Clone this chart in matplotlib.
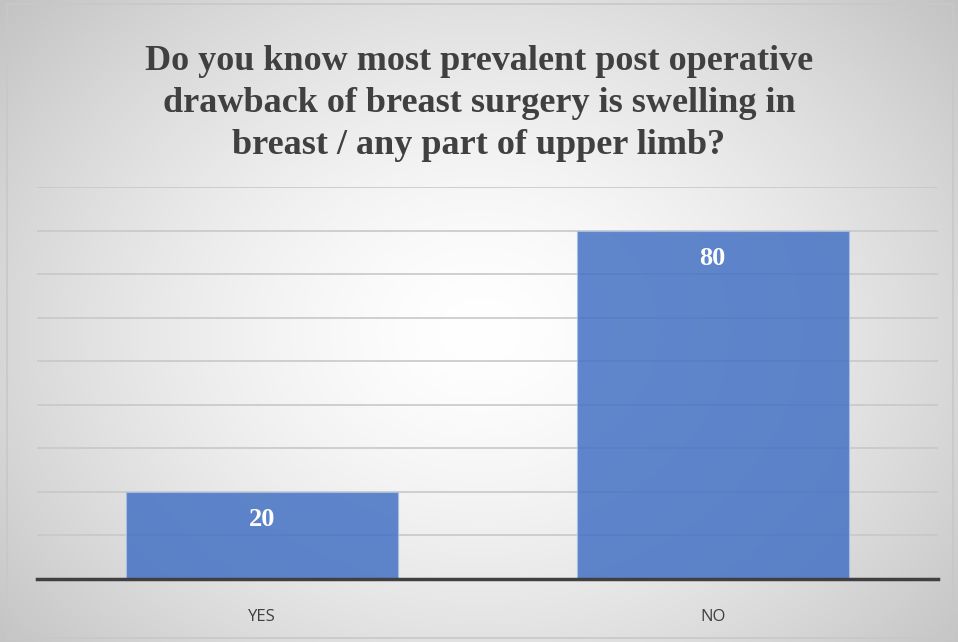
import numpy as np
import matplotlib.pyplot as plt
from matplotlib.patches import Rectangle

categories = ["YES", "NO"]
values = [20, 80]
title = ("Do you know most prevalent post operative\n"
         "drawback of breast surgery is swelling in\n"
         "breast / any part of upper limb?")

W, H = 958, 642
fig = plt.figure(figsize=(W / 100, H / 100), dpi=100)

# radial gradient background
bg = fig.add_axes([0, 0, 1, 1], zorder=0)
yy, xx = np.mgrid[0:H, 0:W]
r = np.sqrt(((xx - 480) / 600.0) ** 2 + ((yy - 330) / 480.0) ** 2)
shade = np.clip(1 - 0.22 * r ** 1.5, 0, 1)
bg.imshow(np.dstack([shade] * 3), extent=[0, W, H, 0], aspect="auto")
bg.add_patch(Rectangle((7, 4), 946, 634, fill=False, edgecolor="#c8c8c8", lw=1.2))
bg.set_xlim(0, W)
bg.set_ylim(H, 0)
bg.axis("off")

ax = fig.add_axes([37 / W, (H - 579) / H, 901 / W, (579 - 187) / H], zorder=1)
ax.set_facecolor("none")
x = np.arange(len(categories))
bars = ax.bar(x, values, width=0.604, color="#4472c4", alpha=0.85,
              edgecolor="#a9bfe6", linewidth=0.8, zorder=2)
ax.set_xlim(-0.5, 1.5)
ax.set_ylim(0, 90)
ax.set_yticks(np.arange(0, 91, 10))
ax.yaxis.grid(True, color="#c8c8c8", lw=1.2, zorder=1)
ax.set_axisbelow(True)
ax.tick_params(axis="y", left=False, labelleft=False)
ax.tick_params(axis="x", bottom=False, pad=18, labelsize=12, labelcolor="#404040")
ax.set_xticks(x)
ax.set_xticklabels(categories, family="Open Sans")
for s in ["top", "right", "left"]:
    ax.spines[s].set_visible(False)
ax.spines["bottom"].set_color("#404040")
ax.spines["bottom"].set_linewidth(2.5)
ax.spines["bottom"].set_zorder(3)

for b, v in zip(bars, values):
    ax.annotate(str(v), (b.get_x() + b.get_width() / 2, v), xytext=(0, -20),
                textcoords="offset points", ha="center", va="center",
                color="white", fontsize=19, fontweight="bold",
                family="Liberation Serif", zorder=4)

fig.text(0.5, 1 - 103 / H, title, ha="center", va="center", fontsize=26,
         fontweight="bold", family="Liberation Serif", color="#404040",
         linespacing=1.36, zorder=5)

fig.savefig("out.png", dpi=100)
